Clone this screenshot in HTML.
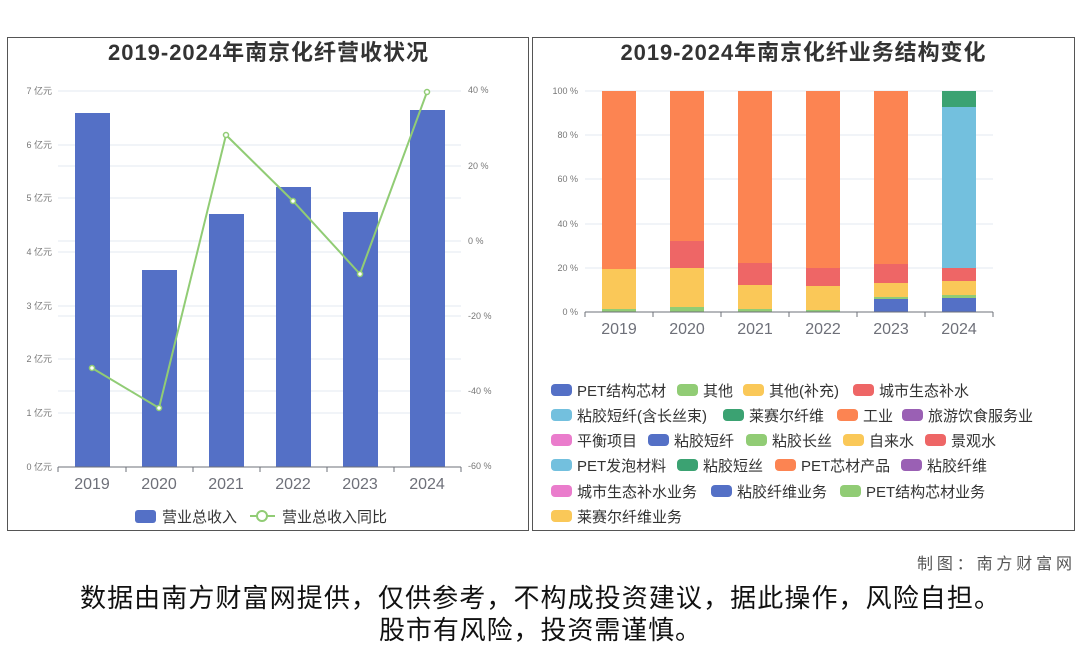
<!DOCTYPE html>
<html><head><meta charset="utf-8"><style>
body{margin:0;background:#fff;width:1080px;height:646px;overflow:hidden;font-family:"Liberation Sans","Noto Sans CJK SC",sans-serif}
svg text{font-family:"Liberation Sans","Noto Sans CJK SC",sans-serif}
</style></head><body>
<svg width="1080" height="646" xmlns="http://www.w3.org/2000/svg">
<rect x="7.5" y="37.5" width="521" height="493" fill="#fff" stroke="#555"/>
<rect x="532.5" y="37.5" width="542" height="493" fill="#fff" stroke="#555"/>
<text x="268" y="60" text-anchor="middle" font-size="22" font-weight="bold" fill="#333" textLength="320">2019-2024年南京化纤营收状况</text>
<text x="803" y="60" text-anchor="middle" font-size="22" font-weight="bold" fill="#333" textLength="365">2019-2024年南京化纤业务结构变化</text>
<g stroke="#e3e8f2" stroke-width="1">
<line x1="58" x2="461" y1="91" y2="91"/><line x1="58" x2="461" y1="145" y2="145"/><line x1="58" x2="461" y1="198" y2="198"/><line x1="58" x2="461" y1="252" y2="252"/><line x1="58" x2="461" y1="306" y2="306"/><line x1="58" x2="461" y1="359" y2="359"/><line x1="58" x2="461" y1="413" y2="413"/>
<line x1="58" x2="461" y1="166" y2="166"/><line x1="58" x2="461" y1="241" y2="241"/><line x1="58" x2="461" y1="316" y2="316"/><line x1="58" x2="461" y1="391" y2="391"/>
</g>
<g font-size="9" fill="#777" text-anchor="end">
<text x="52" y="94">7 亿元</text><text x="52" y="148">6 亿元</text><text x="52" y="201">5 亿元</text><text x="52" y="255">4 亿元</text><text x="52" y="309">3 亿元</text><text x="52" y="362">2 亿元</text><text x="52" y="416">1 亿元</text><text x="52" y="470">0 亿元</text>
</g>
<g font-size="9" fill="#777">
<text x="468" y="93">40 %</text><text x="468" y="169">20 %</text><text x="468" y="244">0 %</text><text x="468" y="319">-20 %</text><text x="468" y="394">-40 %</text><text x="468" y="469">-60 %</text>
</g>
<g fill="#5470c6">
<rect x="75" y="113" width="35" height="354"/><rect x="142" y="270" width="35" height="197"/><rect x="209" y="214" width="35" height="253"/><rect x="276" y="187" width="35" height="280"/><rect x="343" y="212" width="35" height="255"/><rect x="410" y="110" width="35" height="357"/>
</g>
<line x1="58" x2="461" y1="467" y2="467" stroke="#6e7079"/>
<g stroke="#6e7079"><line x1="58" x2="58" y1="467" y2="472"/><line x1="126" x2="126" y1="467" y2="472"/><line x1="193" x2="193" y1="467" y2="472"/><line x1="260" x2="260" y1="467" y2="472"/><line x1="327" x2="327" y1="467" y2="472"/><line x1="394" x2="394" y1="467" y2="472"/><line x1="461" x2="461" y1="467" y2="472"/></g>
<g font-size="16" fill="#6e7079" text-anchor="middle">
<text x="92" y="489">2019</text><text x="159" y="489">2020</text><text x="226" y="489">2021</text><text x="293" y="489">2022</text><text x="360" y="489">2023</text><text x="427" y="489">2024</text>
</g>
<polyline points="92,368 159,408 226,135 293,201 360,274 427,92" fill="none" stroke="#91cc75" stroke-width="2"/>
<g fill="#fff" stroke="#91cc75" stroke-width="1.5"><circle cx="92" cy="368" r="2.5"/><circle cx="159" cy="408" r="2.5"/><circle cx="226" cy="135" r="2.5"/><circle cx="293" cy="201" r="2.5"/><circle cx="360" cy="274" r="2.5"/><circle cx="427" cy="92" r="2.5"/></g>
<rect x="135" y="510" width="21" height="13" rx="3" fill="#5470c6"/>
<text x="162" y="522" font-size="15" fill="#333">营业总收入</text>
<line x1="250" x2="275" y1="516" y2="516" stroke="#91cc75" stroke-width="2"/><circle cx="262" cy="516" r="5" fill="#fff" stroke="#91cc75" stroke-width="2"/>
<text x="282" y="522" font-size="15" fill="#333">营业总收入同比</text>
<g stroke="#e3e8f2"><line x1="585" x2="993" y1="91" y2="91"/><line x1="585" x2="993" y1="135" y2="135"/><line x1="585" x2="993" y1="179" y2="179"/><line x1="585" x2="993" y1="224" y2="224"/><line x1="585" x2="993" y1="268" y2="268"/></g>
<g font-size="9" fill="#777" text-anchor="end">
<text x="578" y="94">100 %</text><text x="578" y="138">80 %</text><text x="578" y="182">60 %</text><text x="578" y="227">40 %</text><text x="578" y="271">20 %</text><text x="578" y="315">0 %</text>
</g>
<rect x="602" y="91" width="34" height="178" fill="#fc8452"/><rect x="602" y="269" width="34" height="40" fill="#fac858"/><rect x="602" y="309" width="34" height="3" fill="#91cc75"/>
<rect x="670" y="91" width="34" height="150" fill="#fc8452"/><rect x="670" y="241" width="34" height="27" fill="#ee6666"/><rect x="670" y="268" width="34" height="39" fill="#fac858"/><rect x="670" y="307" width="34" height="5" fill="#91cc75"/>
<rect x="738" y="91" width="34" height="172" fill="#fc8452"/><rect x="738" y="263" width="34" height="22" fill="#ee6666"/><rect x="738" y="285" width="34" height="24" fill="#fac858"/><rect x="738" y="309" width="34" height="3" fill="#91cc75"/>
<rect x="806" y="91" width="34" height="177" fill="#fc8452"/><rect x="806" y="268" width="34" height="18" fill="#ee6666"/><rect x="806" y="286" width="34" height="24" fill="#fac858"/><rect x="806" y="310" width="34" height="2" fill="#91cc75"/>
<rect x="874" y="91" width="34" height="173" fill="#fc8452"/><rect x="874" y="264" width="34" height="19" fill="#ee6666"/><rect x="874" y="283" width="34" height="14" fill="#fac858"/><rect x="874" y="297" width="34" height="2" fill="#91cc75"/><rect x="874" y="299" width="34" height="13" fill="#5470c6"/>
<rect x="942" y="91" width="34" height="16" fill="#3ba272"/><rect x="942" y="107" width="34" height="161" fill="#73c0de"/><rect x="942" y="268" width="34" height="13" fill="#ee6666"/><rect x="942" y="281" width="34" height="14" fill="#fac858"/><rect x="942" y="295" width="34" height="3" fill="#91cc75"/><rect x="942" y="298" width="34" height="14" fill="#5470c6"/>
<line x1="585" x2="993" y1="312" y2="312" stroke="#6e7079"/>
<g stroke="#6e7079"><line x1="585" x2="585" y1="312" y2="317"/><line x1="653" x2="653" y1="312" y2="317"/><line x1="721" x2="721" y1="312" y2="317"/><line x1="789" x2="789" y1="312" y2="317"/><line x1="857" x2="857" y1="312" y2="317"/><line x1="925" x2="925" y1="312" y2="317"/><line x1="993" x2="993" y1="312" y2="317"/></g>
<g font-size="16" fill="#6e7079" text-anchor="middle">
<text x="619" y="334">2019</text><text x="687" y="334">2020</text><text x="755" y="334">2021</text><text x="823" y="334">2022</text><text x="891" y="334">2023</text><text x="959" y="334">2024</text>
</g>
<g font-size="15" fill="#333">
<rect x="551" y="384" width="21" height="12" rx="4" fill="#5470c6"/><text x="577" y="396">PET结构芯材</text>
<rect x="677" y="384" width="21" height="12" rx="4" fill="#91cc75"/><text x="703" y="396">其他</text>
<rect x="743" y="384" width="21" height="12" rx="4" fill="#fac858"/><text x="769" y="396">其他(补充)</text>
<rect x="853" y="384" width="21" height="12" rx="4" fill="#ee6666"/><text x="879" y="396">城市生态补水</text>
<rect x="551" y="409" width="21" height="12" rx="4" fill="#73c0de"/><text x="577" y="421">粘胶短纤(含长丝束)</text>
<rect x="723" y="409" width="21" height="12" rx="4" fill="#3ba272"/><text x="749" y="421">莱赛尔纤维</text>
<rect x="837" y="409" width="21" height="12" rx="4" fill="#fc8452"/><text x="863" y="421">工业</text>
<rect x="902" y="409" width="21" height="12" rx="4" fill="#9a60b4"/><text x="928" y="421">旅游饮食服务业</text>
<rect x="551" y="434" width="21" height="12" rx="4" fill="#ea7ccc"/><text x="577" y="446">平衡项目</text>
<rect x="648" y="434" width="21" height="12" rx="4" fill="#5470c6"/><text x="674" y="446">粘胶短纤</text>
<rect x="746" y="434" width="21" height="12" rx="4" fill="#91cc75"/><text x="772" y="446">粘胶长丝</text>
<rect x="843" y="434" width="21" height="12" rx="4" fill="#fac858"/><text x="869" y="446">自来水</text>
<rect x="925" y="434" width="21" height="12" rx="4" fill="#ee6666"/><text x="951" y="446">景观水</text>
<rect x="551" y="459" width="21" height="12" rx="4" fill="#73c0de"/><text x="577" y="471">PET发泡材料</text>
<rect x="677" y="459" width="21" height="12" rx="4" fill="#3ba272"/><text x="703" y="471">粘胶短丝</text>
<rect x="775" y="459" width="21" height="12" rx="4" fill="#fc8452"/><text x="801" y="471">PET芯材产品</text>
<rect x="901" y="459" width="21" height="12" rx="4" fill="#9a60b4"/><text x="927" y="471">粘胶纤维</text>
<rect x="551" y="485" width="21" height="12" rx="4" fill="#ea7ccc"/><text x="577" y="497">城市生态补水业务</text>
<rect x="711" y="485" width="21" height="12" rx="4" fill="#5470c6"/><text x="737" y="497">粘胶纤维业务</text>
<rect x="840" y="485" width="21" height="12" rx="4" fill="#91cc75"/><text x="866" y="497">PET结构芯材业务</text>
<rect x="551" y="510" width="21" height="12" rx="4" fill="#fac858"/><text x="577" y="522">莱赛尔纤维业务</text>
</g>
<text x="1072" y="569" text-anchor="end" font-size="16" fill="#555" textLength="155">制图：南方财富网</text>
<text x="540" y="607" text-anchor="middle" font-size="26" fill="#111" textLength="920">数据由南方财富网提供，仅供参考，不构成投资建议，据此操作，风险自担。</text>
<text x="540" y="639" text-anchor="middle" font-size="26" fill="#111" textLength="322">股市有风险，投资需谨慎。</text>
</svg>
</body></html>
